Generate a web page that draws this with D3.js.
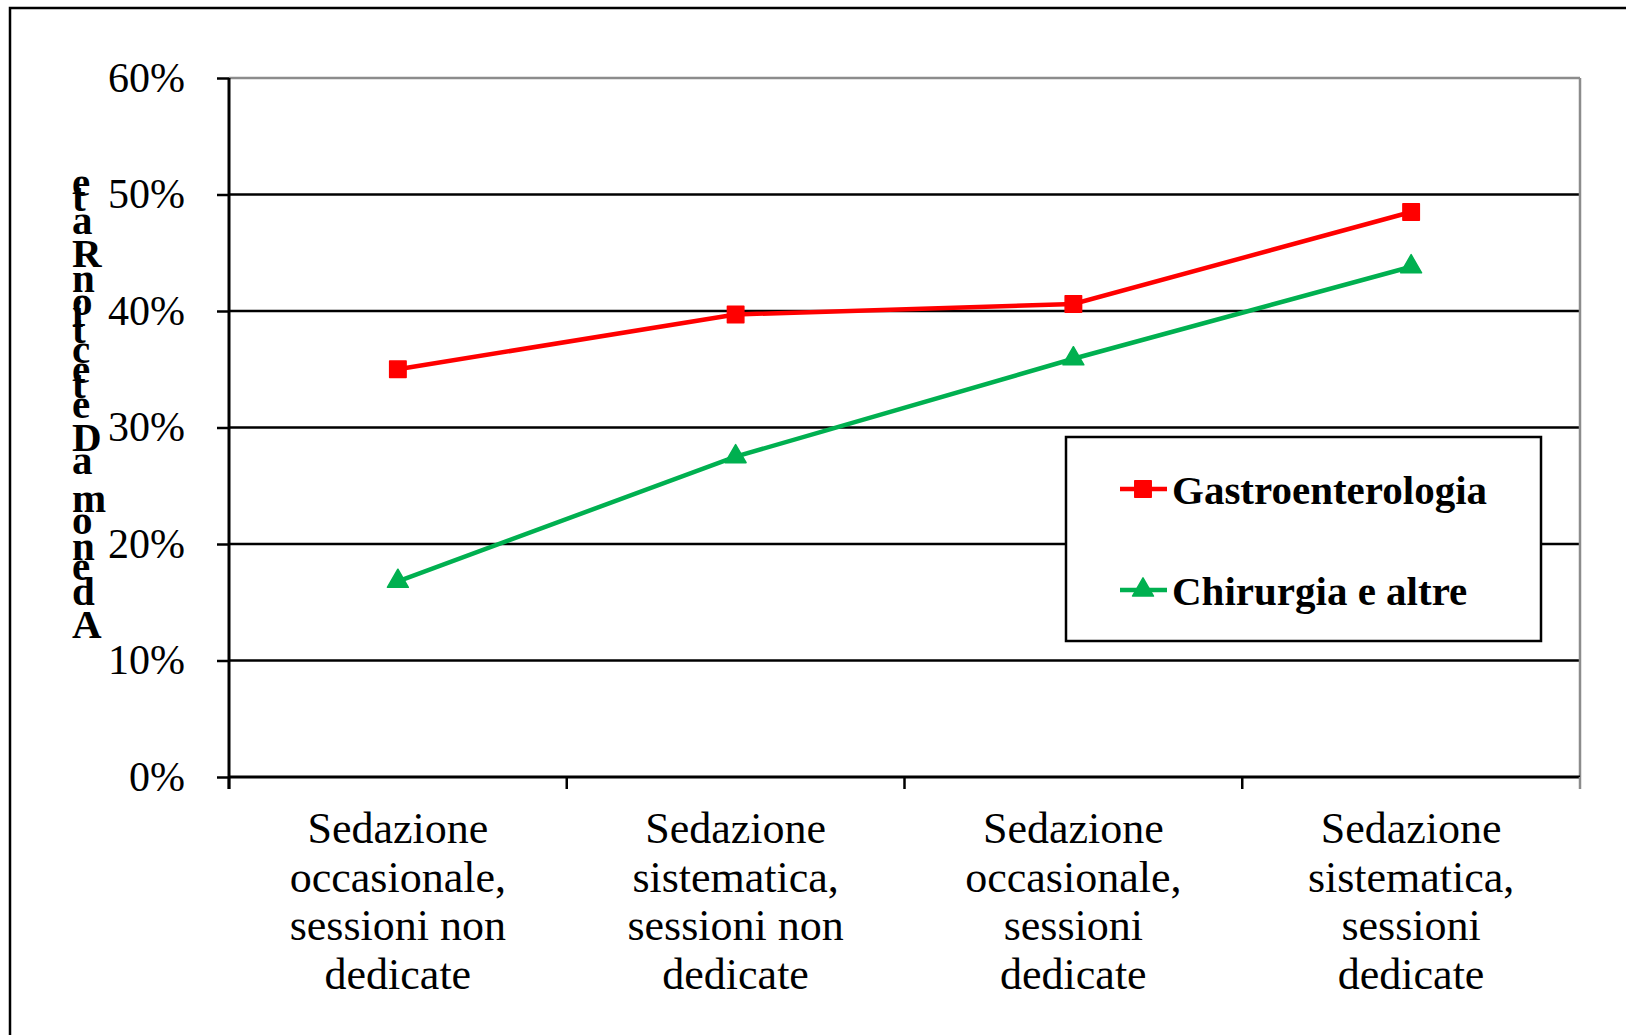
<!DOCTYPE html>
<html>
<head>
<meta charset="utf-8">
<script src="https://cdn.jsdelivr.net/npm/d3@7"></script>
<style>
body{margin:0;background:#fff}
svg{display:block}
</style>
</head>
<body>
<div id="w"></div>
<script>
// categories on the x axis (one label per band, split on lines)
var categories = ["occ_non", "sis_non", "occ_ded", "sis_ded"]
var categoryLines = [
  ["Sedazione", "occasionale,", "sessioni non", "dedicate"],
  ["Sedazione", "sistematica,", "sessioni non", "dedicate"],
  ["Sedazione", "occasionale,", "sessioni", "dedicate"],
  ["Sedazione", "sistematica,", "sessioni", "dedicate"]
]
// adenoma detection rate, %
var gastro = [35.0, 39.7, 40.6, 48.5]
var chirurgia = [16.8, 27.5, 35.9, 43.8]
var seriesNames = ["Gastroenterologia", "Chirurgia e altre"]
var yTicks = [0, 10, 20, 30, 40, 50, 60]
var yTitle = "AdenomaDetectionRate"

var W = 1626, H = 1035
var red = "#ff0000", green = "#00b050"
var serif = "'Liberation Serif', 'Times New Roman', serif"

var svg = d3.select("#w").append("svg")
  .attr("width", W)
  .attr("height", H)

// outer frame (runs off the right and bottom edge)
svg.append("rect")
  .attr("x", 10).attr("y", 8)
  .attr("width", W).attr("height", H)
  .attr("fill", "none").attr("stroke", "#000").attr("stroke-width", 2.5)

var x = d3.scaleBand().domain(categories).range([229, 1580])
var y = d3.scaleLinear().domain([0, 60]).range([777, 78])
var cx = function(i) { return x(categories[i]) + x.bandwidth() / 2 }

// gridlines
svg.append("g").selectAll("line")
  .data(yTicks.filter(function(d) { return d > 0 }))
  .enter().append("line")
  .attr("x1", x.range()[0]).attr("x2", x.range()[1])
  .attr("y1", function(d) { return y(d) }).attr("y2", function(d) { return y(d) })
  .attr("stroke", function(d) { return d == 60 ? "#8c8c8c" : "#000" })
  .attr("stroke-width", 2.5)

// right border of plot area
svg.append("line")
  .attr("x1", x.range()[1]).attr("x2", x.range()[1])
  .attr("y1", y(60)).attr("y2", y(0))
  .attr("stroke", "#8c8c8c").attr("stroke-width", 2.5)

// y axis
var yAxis = svg.append("g")
  .attr("transform", "translate(" + x.range()[0] + ",0)")
  .call(d3.axisLeft(y).tickValues(yTicks).tickSize(12).tickPadding(32)
    .tickFormat(function(d) { return d + "%" }))
yAxis.select(".domain").remove()
yAxis.selectAll(".tick line").attr("stroke", "#000").attr("stroke-width", 2.5)
yAxis.selectAll(".tick text")
  .attr("font-family", serif).attr("font-size", 42).attr("fill", "#000")

svg.append("line")
  .attr("x1", x.range()[0]).attr("x2", x.range()[0])
  .attr("y1", y(60)).attr("y2", y(0) + 12)
  .attr("stroke", "#000").attr("stroke-width", 3)

// x axis
svg.append("line")
  .attr("x1", x.range()[0]).attr("x2", x.range()[1])
  .attr("y1", y(0)).attr("y2", y(0))
  .attr("stroke", "#000").attr("stroke-width", 3)

svg.append("g").selectAll("line")
  .data(d3.range(categories.length + 1))
  .enter().append("line")
  .attr("x1", function(i) { return x.range()[0] + i * x.step() })
  .attr("x2", function(i) { return x.range()[0] + i * x.step() })
  .attr("y1", y(0)).attr("y2", y(0) + 12)
  .attr("stroke", function(i) { return i == categories.length ? "#8c8c8c" : "#000" })
  .attr("stroke-width", 2.5)

var xl = svg.append("g").selectAll("text")
  .data(categoryLines)
  .enter().append("text")
  .attr("font-family", serif).attr("font-size", 44).attr("fill", "#000")
  .attr("text-anchor", "middle")
xl.selectAll("tspan")
  .data(function(d, i) { return d.map(function(s) { return {s: s, i: i} }) })
  .enter().append("tspan")
  .attr("x", function(d) { return cx(d.i) })
  .attr("y", function(d, j) { return y(0) + 66 + j * 48.5 })
  .text(function(d) { return d.s })

// series
var series = [
  {name: seriesNames[0], values: gastro, color: red, sym: d3.symbolSquare, size: 270},
  {name: seriesNames[1], values: chirurgia, color: green, sym: d3.symbolTriangle, size: 190}
]
var line = d3.line()
  .x(function(d, i) { return cx(i) })
  .y(function(d) { return y(d) })

series.forEach(function(s) {
  svg.append("path")
    .attr("d", line(s.values))
    .attr("fill", "none").attr("stroke", s.color).attr("stroke-width", 4.5)
  svg.append("g").selectAll("path")
    .data(s.values)
    .enter().append("path")
    .attr("transform", function(d, i) { return "translate(" + cx(i) + "," + y(d) + ")" })
    .attr("d", d3.symbol().type(s.sym).size(s.size))
    .attr("fill", s.color)
    .attr("stroke", s.color).attr("stroke-width", 1.5).attr("stroke-linejoin", "round")
})

// legend
var lg = svg.append("g").attr("transform", "translate(1066,437)")
lg.append("rect")
  .attr("width", 475).attr("height", 204)
  .attr("fill", "#fff").attr("stroke", "#000").attr("stroke-width", 2.5)
var li = lg.selectAll("g.item")
  .data(series)
  .enter().append("g").attr("class", "item")
  .attr("transform", function(d, i) { return "translate(0," + (52 + i * 101) + ")" })
li.append("line")
  .attr("x1", 54).attr("x2", 101)
  .attr("stroke", function(d) { return d.color }).attr("stroke-width", 4.5)
li.append("path")
  .attr("transform", "translate(77,0)")
  .attr("d", function(d) { return d3.symbol().type(d.sym).size(d.size)() })
  .attr("fill", function(d) { return d.color })
  .attr("stroke", function(d) { return d.color }).attr("stroke-width", 1.5).attr("stroke-linejoin", "round")
li.append("text")
  .attr("x", 106).attr("y", 15)
  .attr("font-family", serif).attr("font-size", 41).attr("font-weight", "bold")
  .text(function(d) { return d.name })

// y title: upright letters stacked from bottom to top
var tg = svg.append("g")
var chars = yTitle.split("")
var letters = tg.selectAll("text")
  .data(chars)
  .enter().append("text")
  .attr("x", 72)
  .attr("font-family", serif).attr("font-size", 41).attr("font-weight", "bold")
  .text(function(d) { return d })
var widths = []
letters.each(function() { widths.push(this.getComputedTextLength()) })
var cum = [0]
for (var i = 1; i < widths.length; i++) cum.push(cum[i - 1] + widths[i - 1])
var k = (638 - 177 - 19) / cum[cum.length - 1]
letters.attr("y", function(d, i) { return 638 - k * cum[i] })
</script>
</body>
</html>
